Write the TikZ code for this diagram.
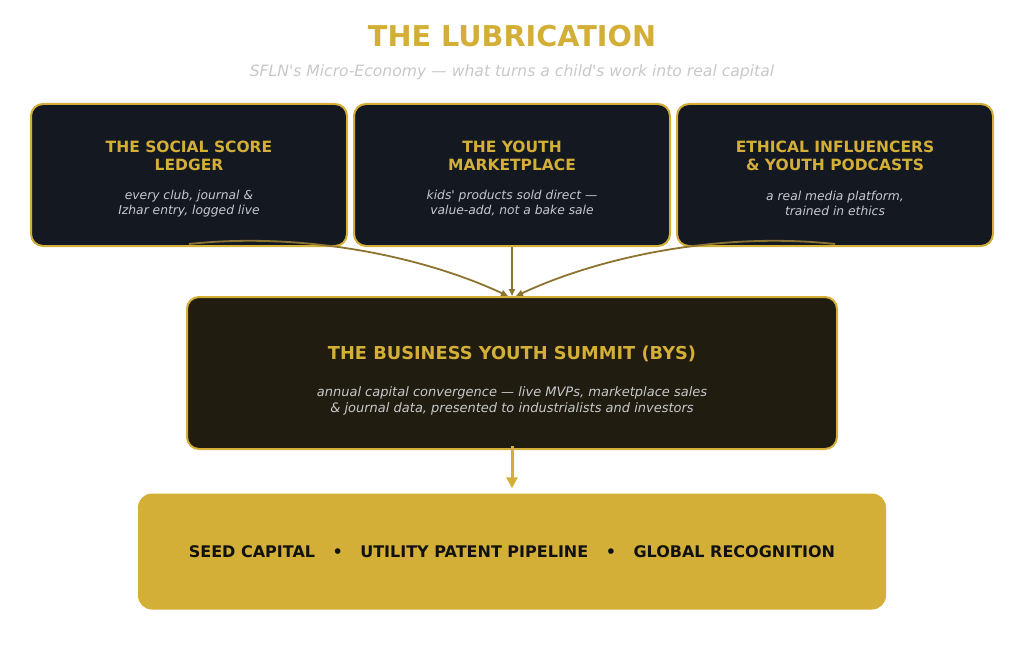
\documentclass[tikz,border=0pt]{standalone}
\usepackage{fontspec}
\setmainfont{DejaVu Sans}
\usetikzlibrary{arrows.meta}
\definecolor{lubgold}{RGB}{212,175,55}
\definecolor{lubolive}{RGB}{140,116,48}
\definecolor{lubnavy}{RGB}{20,24,33}
\definecolor{lubbrown}{RGB}{32,28,16}
\definecolor{lubgrey}{RGB}{200,200,204}
\definecolor{lubpale}{RGB}{200,200,200}
\definecolor{lubink}{RGB}{17,17,17}

\tikzset{
  topbox/.style={draw=lubgold,line width=2pt,fill=lubnavy,rounded corners=12pt,
    minimum width=316pt,minimum height=142pt,inner sep=0pt,align=center},
  boxhead/.style={text=lubgold,font=\fontsize{15.5}{18}\selectfont\bfseries},
  boxnote/.style={text=lubgrey,font=\fontsize{12.3}{15}\selectfont\itshape},
  feed/.style={draw=lubolive,line width=1.8pt,-{Triangle[length=7pt,width=6pt]}}
}

\begin{document}
\begin{tikzpicture}[x=1pt,y=-1pt]
  \useasboundingbox (0,0) rectangle (1024,650);
  \node[text=lubgold,font=\fontsize{28.7}{32}\selectfont\bfseries] (title) at (512,36) {THE LUBRICATION};
  \node[text=lubpale,font=\fontsize{15.6}{18}\selectfont\itshape] (subtitle) at (512,72)
    {SFLN\textquotesingle s Micro-Economy — what turns a child\textquotesingle s work into real capital};

  \node[topbox] (ledger) at (189,175) {};
  \node[topbox] (market) at (512,175) {};
  \node[topbox] (media) at (835,175) {};
  \node[boxhead,align=center] (ledgerhead) at (189,155.5) {THE SOCIAL SCORE\\LEDGER};
  \node[boxnote,align=center] (ledgernote) at (189,203.5) {every club, journal \&\\Izhar entry, logged live};
  \node[boxhead,align=center] (markethead) at (512,155.5) {THE YOUTH\\MARKETPLACE};
  \node[boxnote,align=center] (marketnote) at (512,203.5) {kids\textquotesingle\ products sold direct —\\value-add, not a bake sale};
  \node[boxhead,align=center] (mediahead) at (835,155.5) {ETHICAL INFLUENCERS\\\& YOUTH PODCASTS};
  \node[boxnote,align=center] (medianote) at (835,203.5) {a real media platform,\\trained in ethics};

  \node[draw=lubgold,line width=2pt,fill=lubbrown,rounded corners=12pt,
    minimum width=650pt,minimum height=152pt,inner sep=0pt] (summit) at (512,373) {};
  \node[text=lubgold,font=\fontsize{17.8}{20}\selectfont\bfseries] (summithead) at (512,354)
    {THE BUSINESS YOUTH SUMMIT (BYS)};
  \node[boxnote,font=\fontsize{13}{16}\selectfont\itshape,align=center] (summitnote) at (512,400.5)
    {annual capital convergence — live MVPs, marketplace sales\\\& journal data, presented to industrialists and investors};

  \node[fill=lubgold,rounded corners=14pt,minimum width=748pt,minimum height=116pt,
    inner sep=0pt,text=lubink,font=\fontsize{16}{18}\selectfont\bfseries] (outcome) at (512,551.5)
    {SEED CAPITAL\hspace{17.5pt}\textbullet\hspace{17.5pt}UTILITY PATENT PIPELINE\hspace{17.5pt}\textbullet\hspace{17.5pt}GLOBAL RECOGNITION};

  \draw[feed] ([yshift=3pt]ledger.south) .. controls (300,232) and (420,255) .. ([xshift=-4pt]summit.north);
  \draw[feed] ([yshift=3pt]media.south) .. controls (724,232) and (604,255) .. ([xshift=4pt]summit.north);
  \draw[feed] (market.south) -- (summit.north);
  \draw[draw=lubgold,line width=3pt,-{Triangle[length=11pt,width=11pt]}]
    ([yshift=4pt]summit.south) -- ([yshift=5pt]outcome.north);
\end{tikzpicture}
\end{document}
